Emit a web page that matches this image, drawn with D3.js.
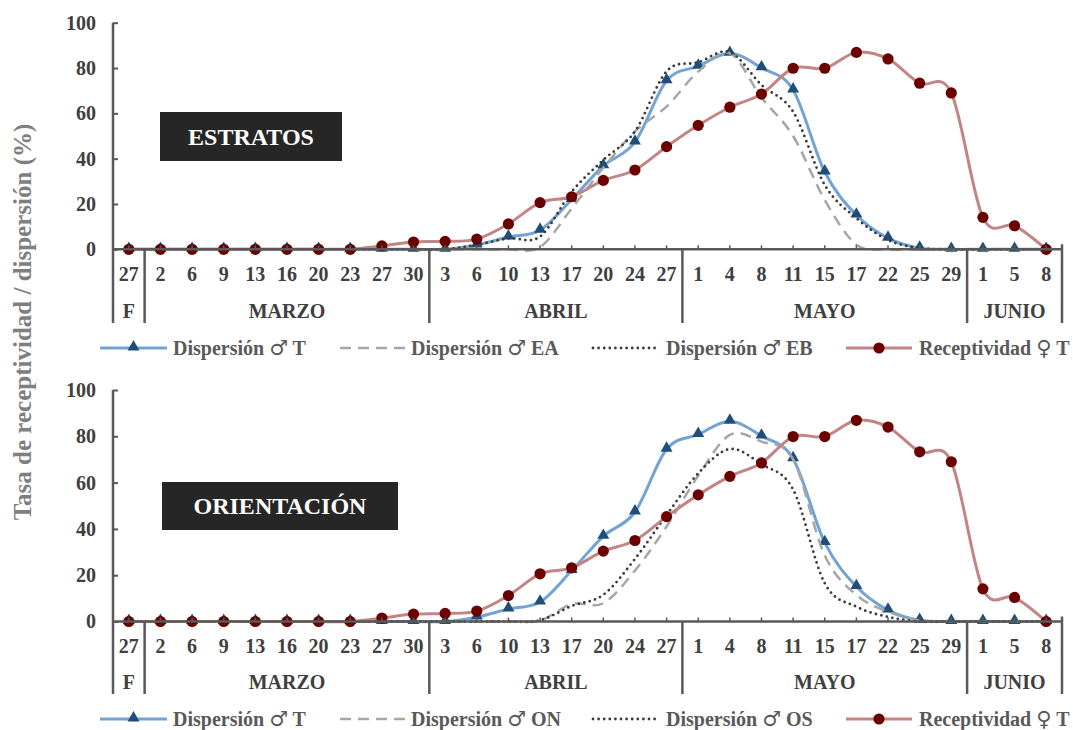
<!DOCTYPE html>
<html>
<head>
<meta charset="utf-8">
<script src="https://cdn.jsdelivr.net/npm/d3@7"></script>
<style>
  html, body { margin: 0; padding: 0; background: #ffffff; }
  svg { display: block; }
  text { font-family: "Liberation Serif", "Times New Roman", serif; font-weight: bold; }
</style>
</head>
<body>
<svg id="chart" width="1073" height="730"></svg>
<script>
// Sampling dates (day of month) and the months they belong to
const days = ["27","2","6","9","13","16","20","23","27","30",
              "3","6","10","13","17","20","24","27",
              "1","4","8","11","15","17","22","25","29",
              "1","5","8"];
const monthNames = ["F", "MARZO", "ABRIL", "MAYO", "JUNIO"];
const monthSpans = [1, 9, 8, 9, 3];
const yTicks = [0, 20, 40, 60, 80, 100];

// Male dispersal, total (%)
const dispT  = [0, 0,0,0,0,0,0,0,0,0, 0,1.9,5.4,8.4,22,36.8,47.3,74.4, 80.8,86.5,80.1,70.3,34.1,15.1,4.9,0.5,0, 0,0,0];
// Female receptivity, total (%)
const recepT = [0, 0,0,0,0,0,0,0,1.5,3.2, 3.5,4.5,11.2,20.6,23.2,30.4,35,45.3, 54.7,62.7,68.5,79.9,79.9,86.9,84,73.3,69, 14.1,10.4,0];
// Male dispersal by stratum: EA (upper) and EB (lower)
const dispEA = [0, 0,0,0,0,0,0,0,0,0, 0,0,0,1,18,36,52,63, 78.4,86.5,67,50,21.8,2,0,0,0, 0,0,0];
const dispEB = [0, 0,0,0,0,0,0,0,0,0, 0,2,4.8,5.6,25.4,39.4,52,78.5, 82.5,87,72.5,60.7,28.4,13.7,4.1,0.5,0, 0,0,0];
// Male dispersal by orientation: ON (north) and OS (south)
const dispON = [0, 0,0,0,0,0,0,0,0,0, 0,0,0,0.5,7.5,7.9,22,41, 63,80.6,77.7,70,28.5,11.5,4.2,0.5,0, 0,0,0];
const dispOS = [0, 0,0,0,0,0,0,0,0,0, 0,0,0,0.5,6.7,11.5,27,46, 64,74.5,67.9,57,16.5,6.4,2,0,0, 0,0,0];

const svg = d3.select("#chart");
const axisColor = "#595959";
const labelColor = "#404040";
const legendColor = "#595959";

const styles = {
  T:   { stroke: "#72a3d4", width: 3,   dash: null,    cap: "butt",  marker: "triangle", mfill: "#1f4e79" },
  A:   { stroke: "#a6a6a6", width: 2.5, dash: "11 7",   cap: "butt",  marker: null },
  B:   { stroke: "#3a3a3a", width: 2.8, dash: "0 5.6",  cap: "round", marker: null },
  R:   { stroke: "#c38584", width: 3,   dash: null,    cap: "butt",  marker: "circle", mfill: "#6b0000" }
};

const x = d3.scaleBand().domain(d3.range(days.length)).range([113, 1062]).paddingInner(0).paddingOuter(0);
const cx = i => x(i) + x.bandwidth() / 2;

const triangle = d3.symbol().type(d3.symbolTriangle).size(62);

function drawMarker(g, type, fill, px, py) {
  if (type === "triangle") {
    g.append("path").attr("d", triangle()).attr("transform", `translate(${px},${py - 1})`).attr("fill", fill);
  } else if (type === "circle") {
    g.append("circle").attr("cx", px).attr("cy", py).attr("r", 5.6).attr("fill", fill);
  }
}

function drawPanel(cfg) {
  const g = svg.append("g");
  const y = d3.scaleLinear().domain([0, 100]).range([cfg.y0, cfg.y100]);

  // Series lines (smoothed)
  const line = d3.line().x((d, i) => cx(i)).y(d => y(d)).curve(d3.curveCardinal.tension(0));
  cfg.series.forEach(s => {
    const st = styles[s.style];
    g.append("path").datum(s.values)
      .attr("d", line)
      .attr("fill", "none")
      .attr("stroke", st.stroke)
      .attr("stroke-width", st.width)
      .attr("stroke-linecap", st.cap)
      .attr("stroke-dasharray", st.dash);
    if (st.marker) {
      s.values.forEach((v, i) => drawMarker(g, st.marker, st.mfill, cx(i), y(v)));
    }
  });

  // Y axis
  const yAxis = d3.axisLeft(y).tickValues(yTicks).tickSize(-5).tickPadding(17);
  const ya = g.append("g").attr("transform", `translate(${x.range()[0]},0)`).call(yAxis);
  ya.select(".domain").remove();
  ya.selectAll(".tick line").attr("stroke", axisColor).attr("stroke-width", 2);
  ya.selectAll(".tick text").attr("fill", labelColor).attr("font-size", 20)
    .style("font-family", "'Liberation Serif', serif").style("font-weight", "bold");

  const [xl, xr] = x.range();
  // left border running from 100 down to the bottom of the category area
  g.append("line").attr("x1", xl).attr("x2", xl).attr("y1", cfg.y100).attr("y2", cfg.bottom)
    .attr("stroke", axisColor).attr("stroke-width", 2.5);
  // category axis line
  g.append("line").attr("x1", xl).attr("x2", xr).attr("y1", cfg.y0).attr("y2", cfg.y0)
    .attr("stroke", axisColor).attr("stroke-width", 2.5);
  // small tick marks at each category
  days.forEach((d, i) => {
    g.append("line").attr("x1", cx(i)).attr("x2", cx(i)).attr("y1", cfg.y0).attr("y2", cfg.y0 - 4)
      .attr("stroke", axisColor).attr("stroke-width", 1.5);
  });
  // day labels
  g.append("g").selectAll("text").data(days).join("text")
    .attr("x", (d, i) => cx(i)).attr("y", cfg.dayY).attr("dy", "0.35em")
    .attr("text-anchor", "middle").attr("font-size", 20).attr("fill", labelColor)
    .text(d => d);

  // month groups and separators
  let start = 0;
  const bounds = [0];
  monthNames.forEach((m, k) => {
    const end = start + monthSpans[k];
    const mx = (x(start) + x(end - 1) + x.bandwidth()) / 2;
    g.append("text").attr("x", mx).attr("y", cfg.monthY).attr("dy", "0.35em")
      .attr("text-anchor", "middle").attr("font-size", 20).attr("fill", labelColor).text(m);
    bounds.push(end);
    start = end;
  });
  bounds.forEach(b => {
    const bx = b < days.length ? x(b) : xr;
    if (b === 0) return;
    g.append("line").attr("x1", bx).attr("x2", bx)
      .attr("y1", b === days.length ? cfg.y0 - 5 : cfg.y0).attr("y2", cfg.bottom)
      .attr("stroke", axisColor).attr("stroke-width", 2.5);
  });

  // Panel title box
  const box = g.append("g");
  box.append("rect").attr("x", cfg.box.x).attr("y", cfg.box.y).attr("width", cfg.box.w).attr("height", cfg.box.h)
    .attr("fill", "#262626");
  box.append("text").attr("x", cfg.box.x + cfg.box.w / 2).attr("y", cfg.box.y + cfg.box.h / 2).attr("dy", "0.35em")
    .attr("text-anchor", "middle").attr("fill", "#ffffff").attr("font-size", 24).text(cfg.box.label);

  // Legend
  const lg = g.append("g");
  const legX = [[100, 167, 173], [340, 405, 411], [593, 659, 666], [846, 912, 919]];
  cfg.series.forEach((s, k) => {
    const st = styles[s.style];
    const [a, b, t] = legX[k];
    lg.append("line").attr("x1", a).attr("x2", b).attr("y1", cfg.legendY).attr("y2", cfg.legendY)
      .attr("stroke", st.stroke).attr("stroke-width", st.width)
      .attr("stroke-linecap", st.cap).attr("stroke-dasharray", st.dash);
    if (st.marker) drawMarker(lg, st.marker, st.mfill, (a + b) / 2, cfg.legendY);
    // name parts: word, sex symbol, group code
    const txt = lg.append("text").attr("x", t).attr("y", cfg.legendY).attr("dy", "0.35em")
      .attr("font-size", 20).attr("fill", legendColor);
    txt.append("tspan").text(s.name[0] + " ");
    txt.append("tspan").attr("font-family", "'DejaVu Sans', sans-serif").attr("font-weight", "normal")
      .attr("font-size", 21).text(s.name[1]);
    txt.append("tspan").text(" " + s.name[2]);
  });
}

drawPanel({
  y0: 249.3, y100: 22.7, dayY: 274, monthY: 311, bottom: 323, legendY: 348,
  box: { x: 160, y: 112, w: 182, h: 49, label: "ESTRATOS" },
  series: [
    { name: ["Dispersión", "♂", "T"],  values: dispT,  style: "T" },
    { name: ["Dispersión", "♂", "EA"], values: dispEA, style: "A" },
    { name: ["Dispersión", "♂", "EB"], values: dispEB, style: "B" },
    { name: ["Receptividad", "♀", "T"], values: recepT, style: "R" }
  ]
});

drawPanel({
  y0: 621.5, y100: 390, dayY: 646, monthY: 682, bottom: 694, legendY: 719,
  box: { x: 162, y: 482, w: 236, h: 48, label: "ORIENTACIÓN" },
  series: [
    { name: ["Dispersión", "♂", "T"],  values: dispT,  style: "T" },
    { name: ["Dispersión", "♂", "ON"], values: dispON, style: "A" },
    { name: ["Dispersión", "♂", "OS"], values: dispOS, style: "B" },
    { name: ["Receptividad", "♀", "T"], values: recepT, style: "R" }
  ]
});

// Shared y-axis title
svg.append("text")
  .attr("transform", "translate(22,322) rotate(-90)")
  .attr("dy", "0.35em")
  .attr("text-anchor", "middle")
  .attr("font-size", 25)
  .attr("fill", "#7f7f7f")
  .text("Tasa de receptividad / dispersión (%)");
</script>
</body>
</html>
